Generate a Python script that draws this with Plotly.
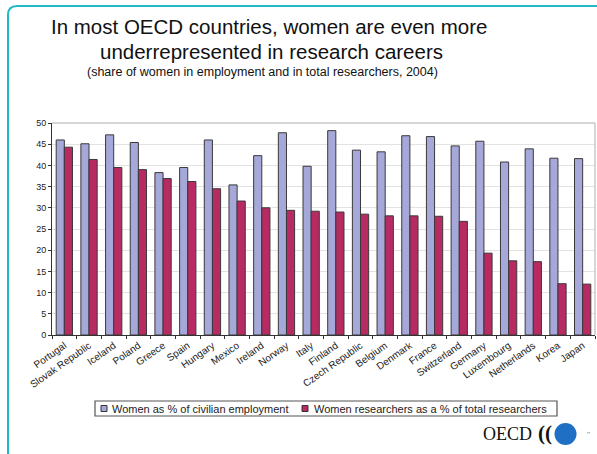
import plotly.graph_objects as go

countries = ["Portugal", "Slovak Republic", "Iceland", "Poland", "Greece", "Spain",
             "Hungary", "Mexico", "Ireland", "Norway", "Italy", "Finland",
             "Czech Republic", "Belgium", "Denmark", "France", "Switzerland",
             "Germany", "Luxembourg", "Netherlands", "Korea", "Japan"]
employment = [46.0, 45.1, 47.2, 45.4, 38.3, 39.5, 46.0, 35.4, 42.3, 47.7, 39.8, 48.2,
              43.6, 43.2, 47.0, 46.8, 44.6, 45.7, 40.8, 43.9, 41.7, 41.6]
researchers = [44.3, 41.4, 39.5, 39.0, 36.9, 36.2, 34.5, 31.6, 30.0, 29.4, 29.2, 29.0,
               28.5, 28.1, 28.1, 28.0, 26.8, 19.3, 17.5, 17.3, 12.1, 12.0]
yticks = [0, 5, 10, 15, 20, 25, 30, 35, 40, 45, 50]
series_names = ["Women as % of civilian employment",
                "Women researchers as a % of total researchers"]
series_colors = ["#A5A8D8", "#B82A62"]

W, H = 597, 454
L, R, T, B = 52, 595, 123, 335

def px(x):
    return (x - L) / (R - L)

def py(y):
    return (B - y) / (B - T)

fig = go.Figure()
for vals, name, col in zip([employment, researchers], series_names, series_colors):
    fig.add_trace(go.Bar(x=countries, y=vals, name=name,
                         marker=dict(color=col, line=dict(color="#3a3a3a", width=1))))

fig.update_layout(
    width=W, height=H,
    margin=dict(l=L, r=W - R, t=T, b=H - B),
    paper_bgcolor="white", plot_bgcolor="white",
    barmode="group", bargap=0.34, bargroupgap=0,
    font=dict(family="Arial, Liberation Sans, sans-serif", color="#222222"),
    showlegend=False,
    xaxis=dict(showline=True, linecolor="#333333", linewidth=1,
               ticks="outside", tickson="boundaries", ticklen=3, tickcolor="#333333",
               tickangle=-35, tickfont=dict(size=10, color="#222222"), showgrid=False),
    yaxis=dict(range=[0, 50], tickvals=yticks, showline=True, linecolor="#333333", linewidth=1,
               ticks="outside", ticklen=3, tickcolor="#333333",
               tickfont=dict(size=9, color="#222222"),
               showgrid=True, gridcolor="#E2E2E2", gridwidth=1, zeroline=False),
)

# plot frame top/right
fig.add_shape(type="line", xref="paper", yref="paper", x0=0, x1=1, y0=1, y1=1,
              line=dict(color="#C8C8C8", width=1.5))
fig.add_shape(type="line", xref="paper", yref="paper", x0=1, x1=1, y0=0, y1=1,
              line=dict(color="#C8C8C8", width=1.5))

# teal rounded border
r = 9
path = (f"M {px(8)},{py(460)} L {px(8)},{py(6 + r)} "
        f"Q {px(8)},{py(6)} {px(8 + r)},{py(6)} L {px(600)},{py(6)}")
fig.add_shape(type="path", xref="paper", yref="paper", path=path,
              line=dict(color="#22B8C8", width=2))

# titles
def ann(text, x, y, size, color="#111111", family=None, xanchor="center"):
    f = dict(size=size, color=color)
    if family:
        f["family"] = family
    fig.add_annotation(text=text, xref="paper", yref="paper", x=px(x), y=py(y),
                       xanchor=xanchor, yanchor="middle", showarrow=False, font=f)

ann("In most OECD countries, women are even more", 269, 26, 20.5)
ann("underrepresented in research careers", 271, 51, 20.5)
ann("(share of women in employment and in total researchers, 2004)", 262, 72, 12.5)

# legend (manual box)
fig.add_shape(type="rect", xref="paper", yref="paper", x0=px(95), x1=px(557),
              y0=py(416), y1=py(401), line=dict(color="#555555", width=1.2), fillcolor="white")
for mx, tx, name, col in zip([101, 302], [110, 312], series_names, series_colors):
    fig.add_shape(type="rect", xref="paper", yref="paper", x0=px(mx), x1=px(mx + 6),
                  y0=py(411.5), y1=py(405.5), fillcolor=col, line=dict(color="#333333", width=1))
    ann(name, tx, 408.5, 11, color="#222222", xanchor="left")

# OECD logo
ann("OECD", 507, 434, 18, family="Liberation Serif, DejaVu Serif, serif")
ann("<b>((</b>", 545, 433, 21, family="Liberation Serif, DejaVu Serif, serif")
fig.add_shape(type="circle", xref="paper", yref="paper", x0=px(554.5), x1=px(576.5),
              y0=py(445), y1=py(423), fillcolor="#1F6FC4", line=dict(width=0))
ann("''", 589, 434, 8, color="#777777")

fig.write_html("out.html")
